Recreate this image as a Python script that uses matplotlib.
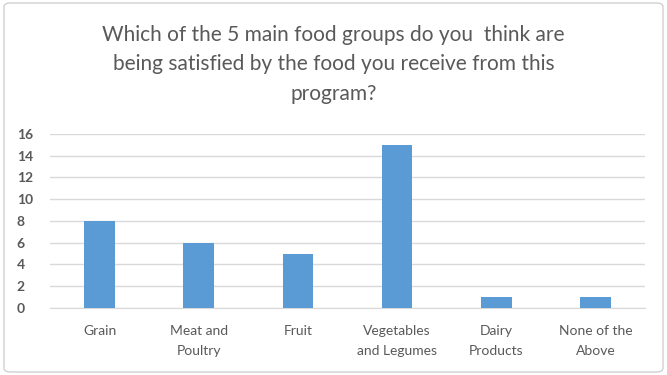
import numpy as np
import matplotlib
matplotlib.use("Agg")
from matplotlib import pyplot as plt
from matplotlib.patches import FancyBboxPatch

# 回答データ
categories = ["Grain", "Meat and\nPoultry", "Fruit", "Vegetables\nand Legumes", "Dairy\nProducts", "None of the\nAbove"]
counts = [8, 6, 5, 15, 1, 1]
yticks = [0, 2, 4, 6, 8, 10, 12, 14, 16]
title = ("Which of the 5 main food groups do you  think are\n"
         "being satisfied by the food you receive from this\n"
         "program?")

plt.rcParams["font.family"] = ["Lato", "DejaVu Sans"]
text_color = "#595959"

fig = plt.figure(figsize=(6.67, 3.75), dpi=100)

# 外枠
frame = FancyBboxPatch((0.006, 0.008), 0.988, 0.984, boxstyle="round,pad=0,rounding_size=0.01",
                       transform=fig.transFigure, fill=False, ec="#d0d0d0", lw=1.0)
fig.patches.append(frame)

ax = fig.add_axes([0.075, 0.179, 0.892, 0.464])
x = np.arange(len(categories))
ax.bar(x, counts, width=0.31, color="#5b9bd5", zorder=3)

ax.set_xlim(-0.5, len(categories) - 0.5)
ax.set_ylim(0, 16)
ax.set_yticks(yticks)
ax.set_xticks(x)
ax.set_xticklabels(categories, fontsize=10, color=text_color, linespacing=1.8)
ax.tick_params(axis="y", labelsize=10, labelcolor=text_color, length=0, pad=24)
ax.tick_params(axis="x", length=0, pad=12)
for lbl in ax.get_yticklabels():
    lbl.set_horizontalalignment("left")
    lbl.set_fontweight("bold")
ax.grid(axis="y", color="#d9d9d9", lw=1, zorder=0)
for s in ["top", "right", "left"]:
    ax.spines[s].set_visible(False)
ax.spines["bottom"].set_color("#d9d9d9")

fig.text(0.5, 0.829, title, ha="center", va="center", fontsize=15,
         color=text_color, linespacing=1.6)

fig.savefig("out.png", dpi=100)
